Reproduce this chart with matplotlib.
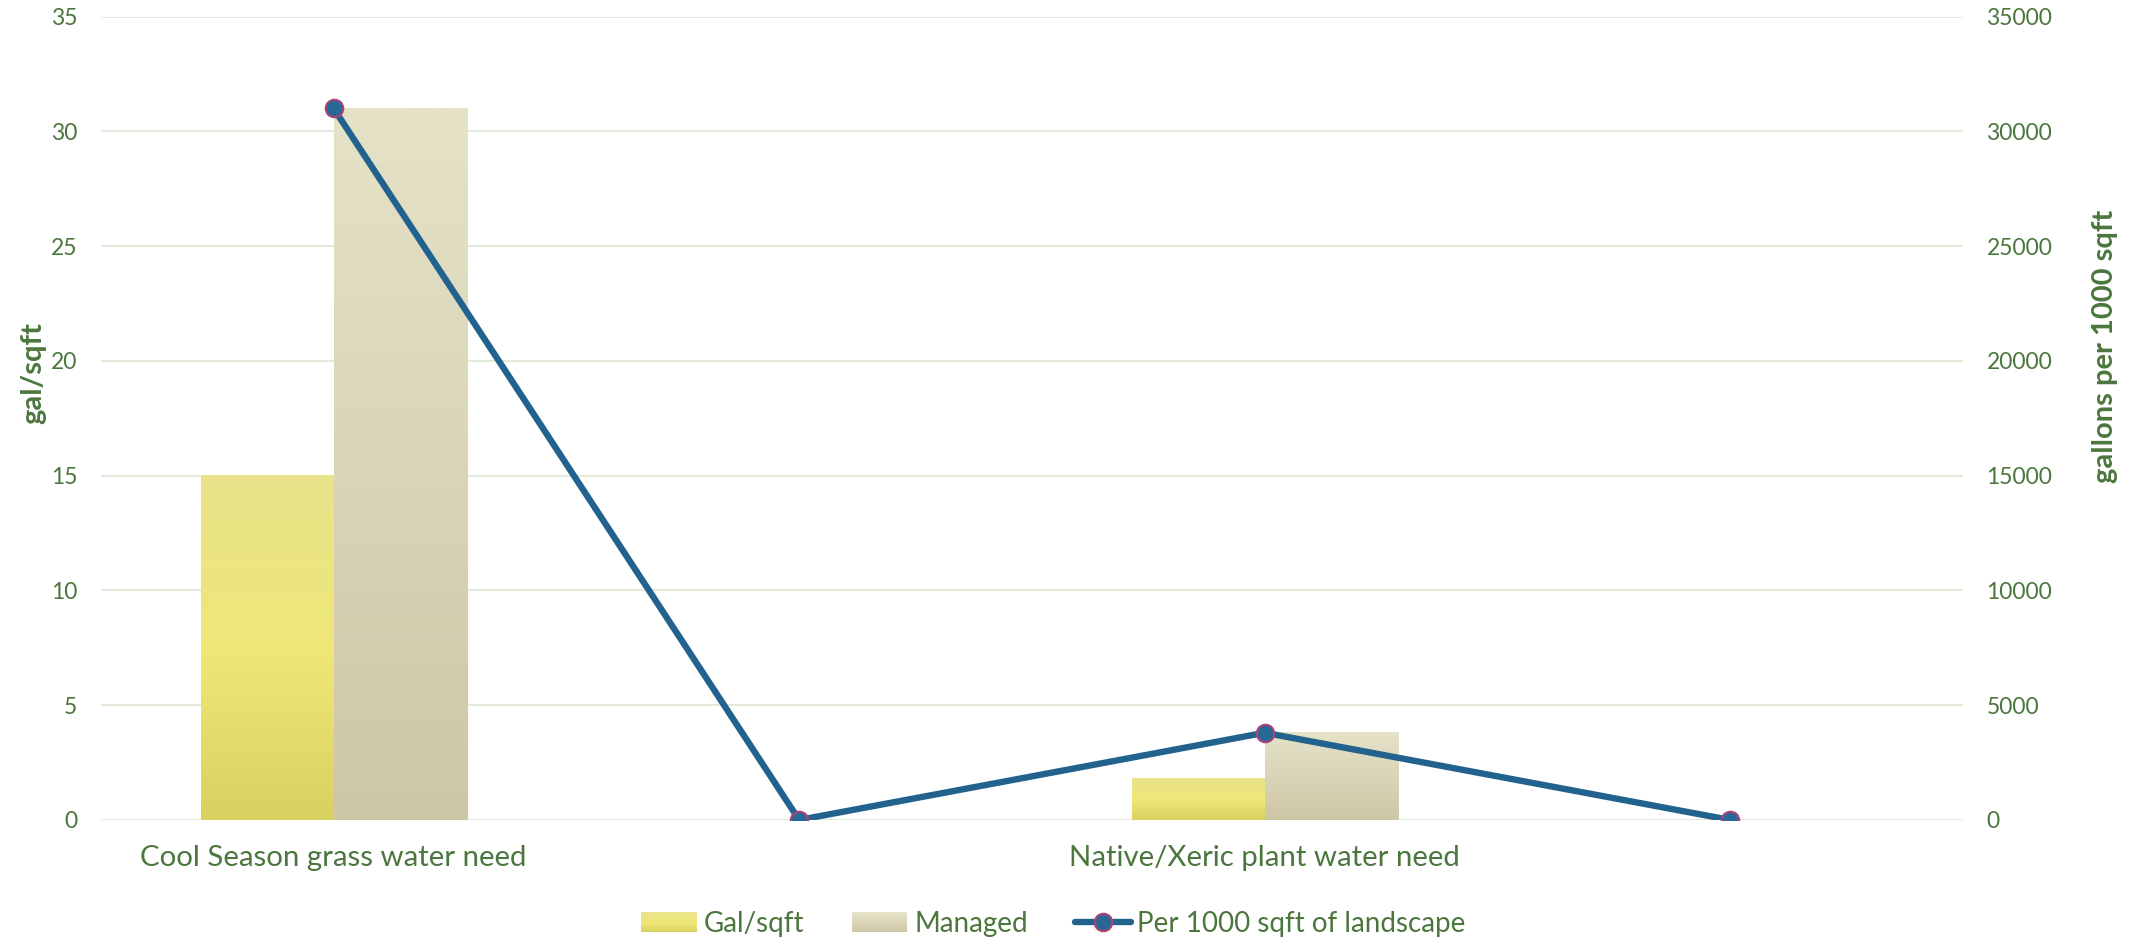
import numpy as np
import matplotlib
matplotlib.use('Agg')
import matplotlib.pyplot as plt
from matplotlib.colors import LinearSegmentedColormap
from matplotlib.legend_handler import HandlerBase
from matplotlib.patches import Rectangle
from matplotlib.lines import Line2D

# data
categories = ["Cool Season grass water need", "", "Native/Xeric plant water need", ""]
gal_sqft = [15, 0, 1.8, 0]
managed = [31, 0, 3.8, 0]
per_1000 = [31000, 0, 3800, 0]

# colours
text_green = '#4B763D'
grid_color = '#DDEBD6'
line_color = '#22628E'
marker_edge = '#A4447A'
gal_grad = ['#D9D15F', '#EFE777', '#E9E38B']      # bottom -> top
managed_grad = ['#CDC7A6', '#DAD5B8', '#E5E2C8']  # bottom -> top

plt.rcParams['font.family'] = ['Lato', 'DejaVu Sans']

fig = plt.figure(figsize=(21.38, 9.4), dpi=100)
ax = fig.add_axes([0.0472, 0.1277, 0.8709, 0.8546])
ax2 = ax.twinx()

x = np.arange(len(categories))
w = 0.286


def gradient_bars(bars, colors):
    cmap = LinearSegmentedColormap.from_list('g', colors)
    grad = np.linspace(0, 1, 256).reshape(-1, 1)
    for b in bars:
        h = b.get_height()
        if h <= 0:
            continue
        x0 = b.get_x()
        ax.imshow(grad, cmap=cmap, origin='lower', aspect='auto',
                  extent=[x0, x0 + b.get_width(), 0, h], zorder=2)
        b.set_visible(False)


b1 = ax.bar(x - w / 2, gal_sqft, w, color=gal_grad[1], label='Gal/sqft', zorder=2)
b2 = ax.bar(x + w / 2, managed, w, color=managed_grad[1], label='Managed', zorder=2)
gradient_bars(b1, gal_grad)
gradient_bars(b2, managed_grad)

line_kw = dict(color=line_color, linewidth=4.6, marker='o', markersize=12.5,
               markerfacecolor='#276896', markeredgecolor=marker_edge, markeredgewidth=1.6,
               solid_capstyle='round')
ax2.plot(x, per_1000, label='Per 1000 sqft of landscape', **line_kw)

ax.set_xlim(-0.5, len(categories) - 0.5)
ax.set_ylim(0, 35)
ax.set_yticks(np.arange(0, 36, 5))
ax2.set_ylim(0, 35000)
ax2.set_yticks(np.arange(0, 35001, 5000))

ax.set_xticks(x)
ax.set_xticklabels(categories, color=text_green)
ax.yaxis.grid(True, color=grid_color, linewidth=1.3)
ax.set_axisbelow(True)

for a in (ax, ax2):
    for s in a.spines.values():
        s.set_visible(False)
    a.tick_params(length=0, labelsize=16.5, labelcolor=text_green)
ax.tick_params(axis='x', pad=18, labelsize=21.2)
ax.tick_params(axis='y', pad=17)
ax2.tick_params(axis='y', pad=17)

ax.set_ylabel('gal/sqft', fontsize=21, fontweight='bold', color=text_green, va='center')
ax.yaxis.set_label_coords(-0.0365, 0.556)
ax2.set_ylabel('gallons per 1000 sqft', fontsize=21, fontweight='bold', color=text_green, va='center')
ax2.yaxis.set_label_coords(1.0763, 0.589)


class GradientHandler(HandlerBase):
    def __init__(self, colors):
        super().__init__()
        self.cmap = LinearSegmentedColormap.from_list('lg', colors)

    def create_artists(self, legend, orig_handle, xdescent, ydescent, width, height, fontsize, trans):
        n = 24
        arts = []
        for i in range(n):
            arts.append(Rectangle((-xdescent, -ydescent + height * i / n), width, height / n * 1.05,
                                  facecolor=self.cmap(i / (n - 1)), edgecolor='none',
                                  transform=trans))
        return arts


line_handle = Line2D([], [], **line_kw)
leg = fig.legend([b1, b2, line_handle], ['Gal/sqft', 'Managed', 'Per 1000 sqft of landscape'],
                 handler_map={b1: GradientHandler(gal_grad), b2: GradientHandler(managed_grad)},
                 loc='center', bbox_to_anchor=(0.4928, 0.017), ncol=3, frameon=False,
                 fontsize=20, handlelength=2.0, handleheight=0.72, handletextpad=0.25,
                 columnspacing=1.7)
for t in leg.get_texts():
    t.set_color(text_green)

fig.savefig('out.png', dpi=100)
